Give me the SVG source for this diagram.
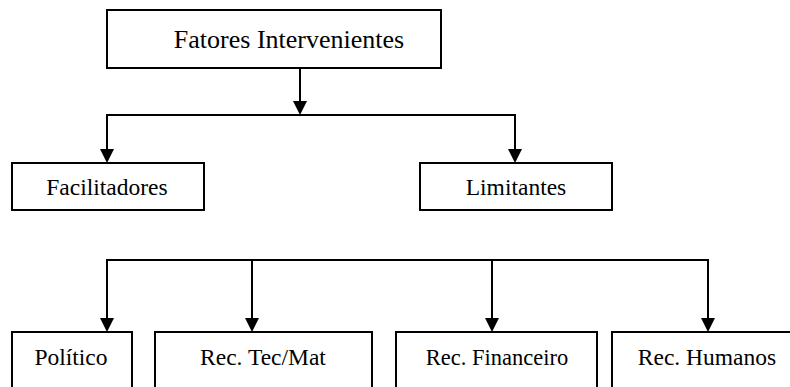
<svg xmlns="http://www.w3.org/2000/svg" width="790" height="387" viewBox="0 0 790 387">
<style>
.box{fill:#fff;stroke:#000;stroke-width:2}
.t{font-family:"Liberation Serif","Times New Roman",serif;font-size:23.5px;fill:#000;text-anchor:middle}
.c{fill:none;stroke:#000;stroke-width:2}
</style>
<defs>
<marker id="ah" viewBox="0 0 14 14" refX="6" refY="7" markerWidth="14" markerHeight="14" orient="auto" markerUnits="userSpaceOnUse">
<path d="M0,0 L14,7 L0,14 z" fill="#000"/>
</marker>
</defs>
<rect width="790" height="387" fill="#fff"/>
<g id="connectors">
<line class="c" x1="300" y1="68" x2="300" y2="107" marker-end="url(#ah)"/>
<polyline class="c" points="107,155 107,115 515,115 515,155"/>
<line class="c" x1="107" y1="150" x2="107" y2="155" marker-end="url(#ah)"/>
<line class="c" x1="515" y1="150" x2="515" y2="155" marker-end="url(#ah)"/>
<polyline class="c" points="107,324 107,260 708,260 708,324"/>
<line class="c" x1="252" y1="260" x2="252" y2="324" marker-end="url(#ah)"/>
<line class="c" x1="492" y1="260" x2="492" y2="324" marker-end="url(#ah)"/>
<line class="c" x1="107" y1="318" x2="107" y2="324" marker-end="url(#ah)"/>
<line class="c" x1="708" y1="318" x2="708" y2="324" marker-end="url(#ah)"/>
</g>
<g id="fatores">
<rect class="box" x="107" y="10" width="334" height="58"/>
<text class="t" x="289" y="48" style="font-size:26px">Fatores Intervenientes</text>
</g>
<g id="facilitadores">
<rect class="box" x="12" y="163" width="192" height="47"/>
<text class="t" x="107" y="195">Facilitadores</text>
</g>
<g id="limitantes">
<rect class="box" x="420" y="163" width="192" height="47"/>
<text class="t" x="516" y="195">Limitantes</text>
</g>
<g id="politico">
<rect class="box" x="12" y="332" width="120" height="70"/>
<text class="t" x="71" y="365">Político</text>
</g>
<g id="rec-tec-mat">
<rect class="box" x="155" y="332" width="217" height="70"/>
<text class="t" x="263" y="365">Rec. Tec/Mat</text>
</g>
<g id="rec-financeiro">
<rect class="box" x="396" y="332" width="201" height="70"/>
<text class="t" x="497" y="365" style="font-size:22.5px">Rec. Financeiro</text>
</g>
<g id="rec-humanos">
<rect class="box" x="612" y="332" width="190" height="70"/>
<text class="t" x="707" y="365">Rec. Humanos</text>
</g>
</svg>
